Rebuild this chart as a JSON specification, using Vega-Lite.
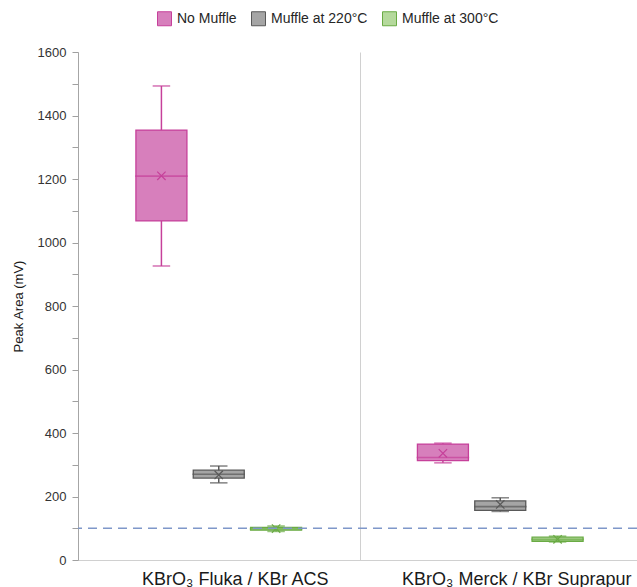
{
  "$schema": "https://vega.github.io/schema/vega-lite/v6.json",
  "autosize": {"type": "none"},
  "padding": {"left": 78, "top": 52, "right": 0, "bottom": 27},
  "width": 559,
  "height": 508,
  "background": "white",
  "config": {"view": {"stroke": null}, "font": "Liberation Sans",
    "axisY": {"title": "Peak Area (mV)", "titleFontSize": 13, "titleFontWeight": "normal", "titleColor": "#1a1a1a", "titlePadding": 12,
      "values": [0,25,50,75,100,125,150,175,200,225,250,275,300,325,350,375,400,425,450,475,500,525,550,575,600,625,650,675,700,725,750,775,800,825,850,875,900,925,950,975,1000,1025,1050,1075,1100,1125,1150,1175,1200,1225,1250,1275,1300,1325,1350,1375,1400,1425,1450,1475,1500,1525,1550,1575,1600],
      "labelExpr": "datum.value % 200 === 0 ? format(datum.value, 'd') : ''",
      "labelOverlap": false, "labelBound": false, "labelFontSize": 13, "labelColor": "#333333",
      "ticks": true, "tickSize": 6, "tickWidth": 1, "tickColor": "#a0a0a0", "domainColor": "#a6a6a6", "grid": false, "labelPadding": 6}},
  "layer": [
    {
      "data": {"values": [
        {"group": "KBrO₃ Fluka / KBr ACS", "series": "No Muffle", "lo": 926, "q1": 1068, "med": 1209, "q3": 1354, "hi": 1493, "mean": 1210},
        {"group": "KBrO₃ Fluka / KBr ACS", "series": "Muffle at 220°C", "lo": 243, "q1": 258, "med": 270, "q3": 283, "hi": 296, "mean": 268},
        {"group": "KBrO₃ Fluka / KBr ACS", "series": "Muffle at 300°C", "lo": 90, "q1": 94, "med": 98, "q3": 103, "hi": 107, "mean": 99},
        {"group": "KBrO₃ Merck / KBr Suprapur", "series": "No Muffle", "lo": 306, "q1": 313, "med": 323, "q3": 365, "hi": 368, "mean": 336},
        {"group": "KBrO₃ Merck / KBr Suprapur", "series": "Muffle at 220°C", "lo": 153, "q1": 156, "med": 168, "q3": 186, "hi": 196, "mean": 175},
        {"group": "KBrO₃ Merck / KBr Suprapur", "series": "Muffle at 300°C", "lo": 57, "q1": 59, "med": 65, "q3": 72, "hi": 75, "mean": 65}
      ]},
      "encoding": {
        "x": {"field": "group", "type": "nominal", "sort": null,
          "scale": {"range": [0, 563], "paddingInner": 0, "paddingOuter": 0},
          "axis": {"title": null, "domainColor": "#d0d0d0", "ticks": false, "grid": true, "gridColor": "#d0d0d0", "tickBand": "extent",
            "labelFontSize": 18, "labelColor": "#1a1a1a", "labelPadding": 10, "labelOffset": 16, "labelAngle": 0, "labelLimit": 400}},
        "xOffset": {"field": "series", "sort": ["No Muffle", "Muffle at 220°C", "Muffle at 300°C"],
          "scale": {"paddingInner": 0.09, "paddingOuter": 1.03}},
        "stroke": {"field": "series", "type": "nominal",
          "scale": {"domain": ["No Muffle", "Muffle at 220°C", "Muffle at 300°C"], "range": ["#c6409a", "#595959", "#6aab44"]},
          "legend": {"title": null, "orient": "none", "legendX": 79, "legendY": -41, "direction": "horizontal",
            "symbolType": "square", "symbolSize": 196, "symbolStrokeWidth": 1, "labelFontSize": 14, "labelColor": "#262626",
            "columnPadding": 12, "labelOffset": 5}}
      },
      "layer": [
        {
          "mark": {"type": "rule", "strokeWidth": 1.5},
          "encoding": {
            "y": {"field": "lo", "type": "quantitative", "scale": {"domain": [0, 1600], "nice": false}, "title": "Peak Area (mV)"},
            "y2": {"field": "hi"}
          }
        },
        {
          "mark": {"type": "bar", "size": 51, "strokeWidth": 1.3},
          "encoding": {
            "y": {"field": "q1", "type": "quantitative", "title": "Peak Area (mV)"},
            "y2": {"field": "q3"},
            "fill": {"field": "series", "type": "nominal",
              "scale": {"domain": ["No Muffle", "Muffle at 220°C", "Muffle at 300°C"], "range": ["#d77fbc", "#a5a5a5", "#b5d99c"]},
              "legend": {"title": null, "orient": "none", "legendX": 79, "legendY": -41, "direction": "horizontal",
                "symbolType": "square", "symbolSize": 196, "symbolStrokeWidth": 1, "labelFontSize": 14, "labelColor": "#262626",
                "columnPadding": 12, "labelOffset": 5}}
          }
        },
        {
          "mark": {"type": "tick", "filled": false, "size": 16, "thickness": 0.1, "strokeWidth": 1.5},
          "encoding": {"y": {"field": "lo", "type": "quantitative", "title": "Peak Area (mV)"}}
        },
        {
          "mark": {"type": "tick", "filled": false, "size": 16, "thickness": 0.1, "strokeWidth": 1.5},
          "encoding": {"y": {"field": "hi", "type": "quantitative", "title": "Peak Area (mV)"}}
        },
        {
          "mark": {"type": "tick", "filled": false, "size": 51, "thickness": 0.1, "strokeWidth": 1.5},
          "encoding": {"y": {"field": "med", "type": "quantitative", "title": "Peak Area (mV)"}}
        },
        {
          "mark": {"type": "point", "filled": false, "shape": "M-1,-1L1,1M1,-1L-1,1", "size": 70, "strokeWidth": 1.2, "opacity": 1},
          "encoding": {"y": {"field": "mean", "type": "quantitative", "title": "Peak Area (mV)"}}
        }
      ]
    },
    {
      "data": {"values": [{"limit": 100}]},
      "mark": {"type": "rule", "stroke": "#7f97c9", "strokeDash": [9, 6], "strokeWidth": 1.5},
      "encoding": {
        "y": {"field": "limit", "type": "quantitative", "title": "Peak Area (mV)"}
      }
    }
  ]
}
